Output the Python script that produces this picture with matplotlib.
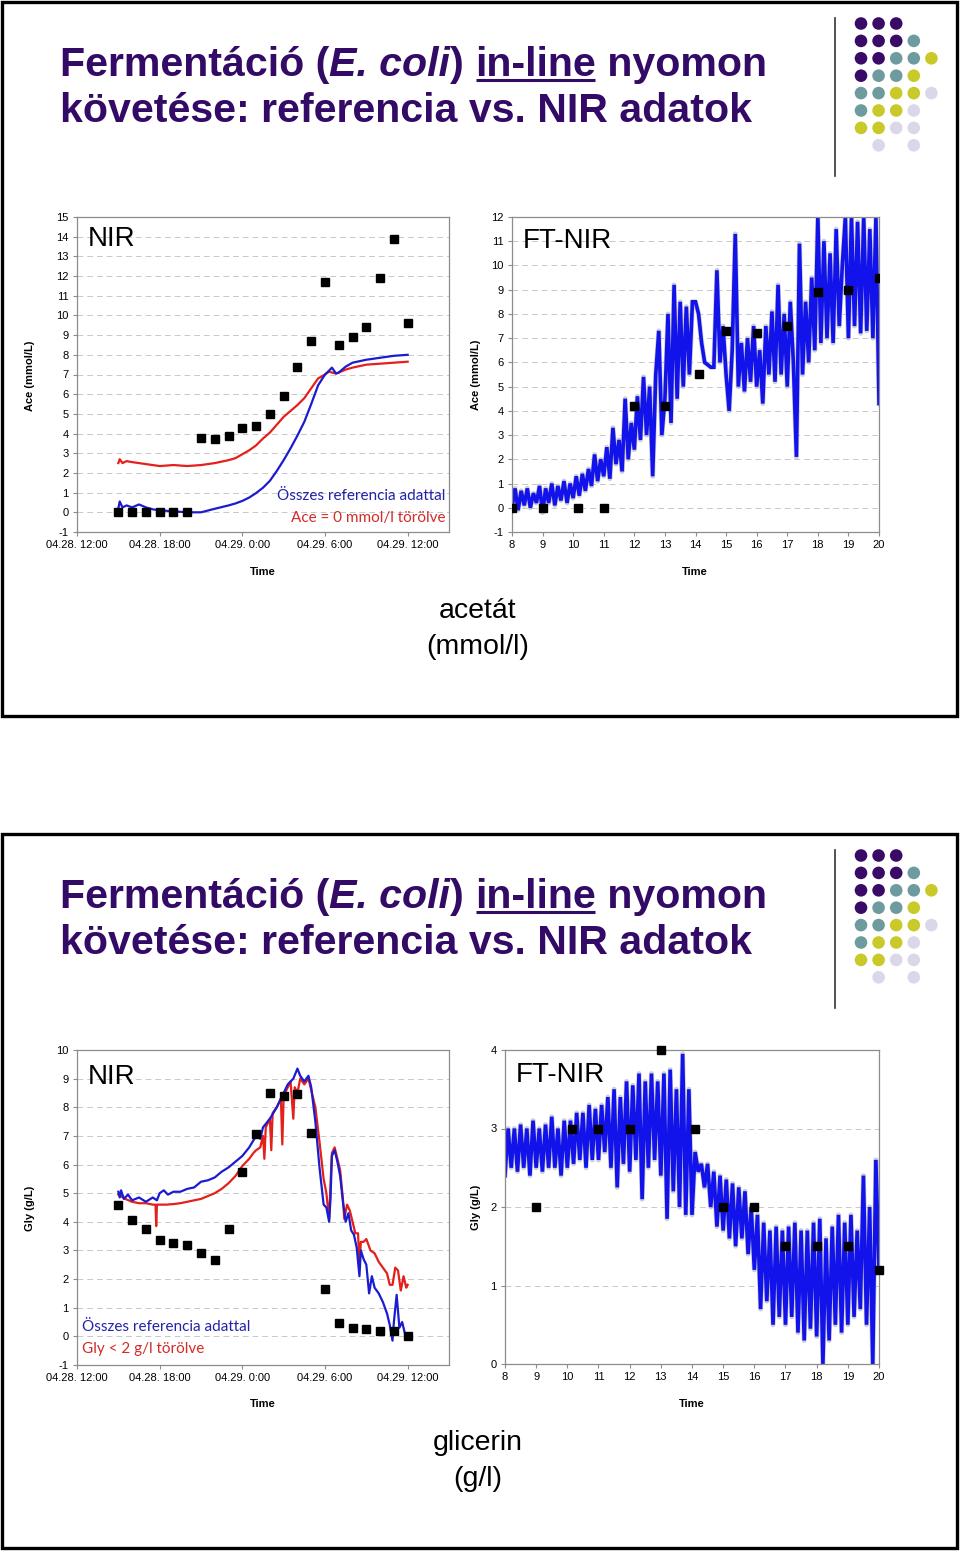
import matplotlib
matplotlib.use('Agg')
import matplotlib.pyplot as plt
from matplotlib.patches import Rectangle, Circle

plt.rcParams['font.family'] = ['Liberation Sans', 'DejaVu Sans']
plt.rcParams['axes.unicode_minus'] = False

# ---- data ----
# NIR, acetate (hours after 04.28. 12:00)
ref_ace_t = [3, 4, 5, 6, 7, 8, 9, 10, 11, 12, 13, 14, 15, 16, 17, 18, 19, 20, 21, 22, 23, 24]
ref_ace = [0, 0, 0, 0, 0, 0, 3.8, 3.7, 3.9, 4.3, 4.4, 5.0, 5.9, 7.4, 8.7, 11.7, 8.5, 8.9, 9.4, 11.9, 13.9, 9.6]
nir_ace_t = [3.0, 3.1, 3.3, 3.6, 4.0, 4.5, 5.0, 5.5, 6.0, 7.0, 8.0, 9.0, 10.0, 11.0, 11.5, 12.0, 12.5,
             13.0, 13.5, 14.0, 14.5, 15.0, 15.5, 16.0, 16.5, 17.0, 17.5, 18.0, 18.3, 18.5, 18.8, 19.0,
             19.5, 20.0, 21.0, 22.0, 23.0, 24.0]
nir_ace_all = [0.2, 0.55, 0.25, 0.35, 0.25, 0.4, 0.25, 0.15, 0.1, 0.05, 0.0, 0.0, 0.18, 0.35, 0.45, 0.58, 0.75,
               0.98, 1.25, 1.6, 2.1, 2.65, 3.25, 3.9, 4.6, 5.5, 6.45, 7.0, 7.2, 7.35, 7.05, 7.1,
               7.4, 7.6, 7.75, 7.85, 7.95, 8.0]
nir_ace_del = [2.5, 2.7, 2.5, 2.6, 2.55, 2.5, 2.45, 2.4, 2.35, 2.4, 2.35, 2.4, 2.5, 2.65, 2.75, 2.95, 3.15,
               3.4, 3.75, 4.05, 4.45, 4.85, 5.15, 5.45, 5.8, 6.3, 6.8, 7.0, 7.15, 7.1, 7.05, 7.1,
               7.25, 7.35, 7.5, 7.55, 7.6, 7.65]

# FT-NIR, acetate (hours)
ft_ref_ace_t = [8, 9, 10.15, 11, 12, 13, 14.1, 15, 16, 17, 18, 19, 20]
ft_ref_ace = [0, 0, 0, 0, 4.2, 4.2, 5.5, 7.3, 7.2, 7.5, 8.9, 9.0, 9.5]
ft_t = [8 + i / 10 for i in range(121)]
ft_ace = [0.0, 0.8, -0.1, 0.7, 0.1, 0.8, 0.0, 0.6, 0.2, 0.9,
          -0.2, 0.8, 0.2, 1.0, 0.1, 0.9, 0.3, 1.1, 0.2, 1.0,
          0.4, 1.3, 0.5, 1.4, 0.7, 1.6, 0.9, 2.2, 1.1, 2.0,
          1.3, 2.5, 1.2, 3.3, 1.8, 2.8, 1.5, 4.5, 2.0, 3.5,
          2.4, 4.6, 2.8, 5.4, 3.0, 5.0, 1.3, 5.5, 7.3, 3.0,
          4.5, 8.0, 3.5, 9.2, 4.5, 8.5, 5.0, 8.3, 5.5, 8.5,
          8.5, 8.0, 6.8, 6.0, 5.9, 5.8, 5.8, 9.8, 6.0, 7.5,
          5.5, 4.0, 6.5, 11.3, 5.0, 6.8, 4.8, 7.0, 5.2, 7.5,
          5.0, 6.5, 4.3, 7.5, 5.5, 8.1, 5.2, 9.2, 5.5, 8.0,
          5.0, 8.5, 6.0, 2.1, 10.9, 5.5, 8.5, 6.0, 9.5, 6.5,
          12.0, 6.8, 11.0, 7.0, 10.5, 6.8, 11.5, 7.5, 10.0, 12.0,
          7.0, 12.0, 7.5, 11.8, 7.2, 12.0, 7.3, 11.5, 7.0, 12.0,
          4.3]

# NIR, glycerol
ref_gly_t = [3, 4, 5, 6, 7, 8, 9, 10, 11, 12, 13, 14, 15, 16, 17, 18, 19, 20, 21, 22, 23, 24]
ref_gly = [4.6, 4.05, 3.75, 3.35, 3.25, 3.2, 2.9, 2.65, 3.75, 5.75, 7.05, 8.5, 8.4, 8.45, 7.1,
           1.65, 0.45, 0.3, 0.25, 0.2, 0.2, 0.0]
nir_gly_all_t = [3.0, 3.1, 3.2, 3.4, 3.7, 4.0, 4.5, 5.0, 5.5, 5.8, 6.0, 6.3, 6.6, 7.0, 7.5, 8.0, 8.5, 9.0,
                 9.5, 10.0, 10.5, 11.0, 11.5, 12.0, 12.5, 13.0, 13.3, 13.5, 14.0, 14.5, 15.0, 15.3, 15.5,
                 15.7, 16.0, 16.2, 16.5, 16.8, 17.0, 17.3, 17.6, 17.9, 18.1, 18.3, 18.4, 18.5, 18.7, 18.9,
                 19.1, 19.3, 19.5, 19.7, 19.9, 20.1, 20.3, 20.5, 20.6, 20.8, 21.0, 21.2, 21.4, 21.6, 21.9,
                 22.2, 22.5, 22.7, 22.9, 23.0, 23.2, 23.4, 23.6, 23.8, 24.0]
nir_gly_all = [5.05, 4.85, 5.1, 4.8, 4.95, 4.75, 4.85, 4.7, 4.85, 4.75, 5.0, 5.1, 4.95, 5.05, 5.05, 5.15,
               5.2, 5.4, 5.45, 5.55, 5.75, 5.9, 6.1, 6.3, 6.6, 7.0, 6.9, 7.3, 7.6, 8.0, 8.5, 8.8, 8.9,
               9.0, 9.35, 9.1, 8.9, 9.1, 8.7, 7.5, 5.9, 4.6, 4.5, 4.0, 4.8, 6.3, 6.5, 6.1,
               5.6, 4.7, 4.0, 4.3, 3.7, 3.55, 3.1, 2.1, 3.0, 2.7, 2.5, 1.5, 2.1, 1.7, 1.5,
               1.2, 0.8, 0.4, -0.15, 0.5, 1.45, 0.3, 0.5, 0.1, 0.0]
nir_gly_del_t = [3.0, 3.5, 4.0, 4.5, 5.0, 5.5, 5.7, 5.75, 5.8, 6.0, 6.5, 7.0, 7.5, 8.0, 8.5, 9.0, 9.5,
                 10.0, 10.5, 11.0, 11.5, 12.0, 12.5, 12.8, 13.0, 13.3, 13.5, 13.6, 13.7, 13.9, 14.0,
                 14.1, 14.2, 14.5, 14.8, 14.9, 15.0, 15.3, 15.5, 15.7, 15.8, 16.0, 16.2, 16.5, 16.8,
                 17.0, 17.3, 17.6, 17.9, 18.1, 18.3, 18.4, 18.5, 18.7, 18.9, 19.1, 19.3, 19.4, 19.6,
                 19.8, 20.0, 20.2, 20.4, 20.5, 20.6, 20.8, 21.0, 21.3, 21.6, 21.9, 22.2, 22.5, 22.7,
                 22.9, 23.1, 23.3, 23.5, 23.7, 23.9, 24.0]
nir_gly_del = [4.95, 4.8, 4.7, 4.65, 4.65, 4.6, 4.6, 3.85, 4.6, 4.6, 4.6, 4.62, 4.65, 4.7, 4.75, 4.8,
               4.9, 5.0, 5.15, 5.35, 5.6, 5.95, 6.2, 6.4, 6.5, 6.6, 7.0, 6.2, 7.3, 7.5, 7.6,
               6.5, 7.8, 8.0, 8.3, 6.7, 8.4, 8.7, 8.9, 7.6, 8.7, 8.5, 9.0, 8.8, 9.0,
               8.6, 8.0, 6.8, 5.5, 5.0, 4.1, 5.3, 6.4, 6.6, 6.2, 5.8, 4.8, 4.1, 4.6,
               4.4, 4.0, 3.6, 3.6, 2.4, 3.3, 3.3, 3.4, 3.0, 2.9, 2.6, 2.4, 2.2, 1.8,
               1.8, 2.4, 2.3, 1.6, 2.1, 1.7, 1.8]

# FT-NIR, glycerol
ft_ref_gly_t = [9, 10.15, 11, 12, 13, 14.1, 15, 16, 17, 18, 19, 20]
ft_ref_gly = [2.0, 3.0, 3.0, 3.0, 4.0, 3.0, 2.0, 2.0, 1.5, 1.5, 1.5, 1.2]
ft_gly = [2.4, 3.0, 2.5, 3.0, 2.45, 3.05, 2.5, 3.0, 2.4, 3.1,
          2.5, 3.0, 2.45, 3.05, 2.5, 3.15, 2.5, 3.0, 2.4, 3.1,
          2.5, 3.1, 2.55, 3.2, 2.6, 3.2, 2.5, 3.3, 2.6, 3.25,
          2.6, 3.3, 2.7, 3.4, 2.5, 3.5, 2.25, 3.4, 2.55, 3.6,
          2.45, 3.55, 2.6, 3.7, 2.1, 3.6, 2.5, 3.7, 2.6, 3.6,
          2.4, 3.7, 1.85, 3.75, 2.2, 3.5, 2.0, 3.95, 1.9, 3.5,
          1.9, 2.7, 2.45, 2.55, 2.25, 2.55, 2.0, 2.45, 1.75, 2.4,
          1.7, 2.35, 1.6, 2.3, 1.5, 2.25, 1.6, 2.2, 1.4, 2.0,
          1.2, 1.9, 0.7, 1.8, 0.8, 1.7, 0.5, 1.75, 0.6, 1.7,
          0.5, 1.75, 0.6, 1.8, 0.4, 1.7, 0.3, 1.7, 0.45, 1.8,
          0.35, 1.85, 0.0, 1.6, 0.3, 1.75, 0.5, 1.9, 0.4, 1.8,
          0.5, 1.9, 0.6, 1.7, 0.7, 2.4, 0.5, 2.0, 0.0, 2.6,
          1.2]

date_ticks = [0, 6, 12, 18, 24]
date_labels = ['04.28. 12:00', '04.28. 18:00', '04.29. 0:00', '04.29. 6:00', '04.29. 12:00']

# decorative dot grid: rows of (colour code per column)
dot_rows = ['PPP..', 'PPPT.', 'PPTTY', 'PTTY.', 'TTYYL', 'TYYL.', 'YYLL.', '.L.L.']
dot_cols = {'P': '#3a0b66', 'T': '#6e9c9e', 'Y': '#c9c92a', 'L': '#d8d8ea'}

BLUE = '#1b1bd0'
RED = '#e3201b'
FTBLUE = '#1212ea'
TITLE = '#330a66'

W, H = 960, 1552
fig = plt.figure(figsize=(9.6, 15.52), dpi=100)
bg = fig.add_axes([0, 0, 1, 1], zorder=0)
bg.set_xlim(0, W)
bg.set_ylim(H, 0)
bg.axis('off')


def px_axes(x0, y0, x1, y1):
    return fig.add_axes([x0 / W, 1 - y1 / H, (x1 - x0) / W, (y1 - y0) / H], zorder=2)


def style(ax):
    for s in ax.spines.values():
        s.set_color('#8c8c8c')
        s.set_linewidth(0.9)
    ax.grid(axis='y', color='#c8c8c8', linestyle=(0, (6, 4)), linewidth=0.7)
    ax.set_axisbelow(True)
    ax.tick_params(labelsize=8, length=3, color='#8c8c8c', pad=3)


renderer = fig.canvas.get_renderer()


def rich_line(x, y, parts, size):
    for txt, style_, under in parts:
        t = bg.text(x, y, txt, fontsize=size, fontweight='bold', fontstyle=style_, color=TITLE,
                    va='baseline', ha='left')
        w = t.get_window_extent(renderer).width
        if under:
            bg.plot([x + 1, x + w - 1], [y + 4, y + 4], color=TITLE, lw=2.2, solid_capstyle='butt')
        x += w


def slide(top, caption):
    # frame
    bg.add_patch(Rectangle((2, top + 2), 955, 714, fill=False, ec='black', lw=2.4))
    # title, size fitted to the reference width
    line1 = [('Fermentáció (', 'normal', False), ('E. coli', 'italic', False), (') ', 'normal', False),
             ('in-line', 'normal', True), (' nyomon', 'normal', False)]
    probe = bg.text(0, 0, 'Fermentáció (E. coli) in-line nyomon', fontsize=30, fontweight='bold')
    size = 30 * 708 / probe.get_window_extent(renderer).width
    probe.remove()
    rich_line(60, top + 76, line1, size)
    rich_line(60, top + 122, [('követése: referencia vs. NIR adatok', 'normal', False)], size)
    # side rule and dots
    bg.plot([835, 835], [top + 18, top + 176], color='#333333', lw=1.2)
    for r, row in enumerate(dot_rows):
        for c, code in enumerate(row):
            if code != '.':
                bg.add_patch(Circle((861 + c * 17.6, top + 23.5 + r * 17.4), 6.3, color=dot_cols[code], lw=0))
    bg.text(478, top + 611, caption[0], fontsize=20.5, ha='center', va='center')
    bg.text(478, top + 647, caption[1], fontsize=20.5, ha='center', va='center')


def labels(top, ylab, left_cx, right_cx):
    bg.text(30, top + 376, ylab, rotation=90, fontsize=8, fontweight='bold', ha='center', va='center')
    bg.text(476, top + 375, ylab, rotation=90, fontsize=8, fontweight='bold', ha='center', va='center')
    bg.text(left_cx, top + 572, 'Time', fontsize=8, fontweight='bold', ha='center', va='center')
    bg.text(right_cx, top + 572, 'Time', fontsize=8, fontweight='bold', ha='center', va='center')


slide(0, ('acetát', '(mmol/l)'))
slide(832, ('glicerin', '(g/l)'))
labels(0, 'Ace (mmol/L)', 263, 695)
labels(832, 'Gly (g/L)', 263, 692)

# ---- slide 1, NIR acetate ----
ax = px_axes(77, 217, 449, 532)
style(ax)
ax.plot(nir_ace_t, nir_ace_del, color=RED, lw=1.6)
ax.plot(nir_ace_t, nir_ace_all, color=BLUE, lw=1.6)
ax.plot(ref_ace_t, ref_ace, 's', color='black', ms=5.5, zorder=5)
ax.set_xlim(0, 27)
ax.set_ylim(-1, 15)
ax.set_yticks(range(-1, 16))
ax.set_xticks(date_ticks)
ax.set_xticklabels(date_labels)
ax.text(0.03, 0.93, 'NIR', transform=ax.transAxes, fontsize=20, va='center')
ax.text(0.99, 0.115, 'Összes referencia adattal', transform=ax.transAxes, color='#2323a8',
        fontsize=11, ha='right', va='center', family=['Lato', 'DejaVu Sans'])
ax.text(0.99, 0.045, 'Ace = 0 mmol/l törölve', transform=ax.transAxes, color='#d42a2a',
        fontsize=11, ha='right', va='center', family=['Lato', 'DejaVu Sans'])

# ---- slide 1, FT-NIR acetate ----
ax = px_axes(512, 217, 879, 532)
style(ax)
ax.plot(ft_t, ft_ace, color='#b8b8c8', lw=3.6, alpha=0.7)
ax.plot(ft_t, ft_ace, color=FTBLUE, lw=2.6, solid_joinstyle='miter')
ax.plot(ft_ref_ace_t, ft_ref_ace, 's', color='black', ms=5.5, zorder=5)
ax.set_xlim(8, 20)
ax.set_ylim(-1, 12)
ax.set_yticks(range(-1, 13))
ax.set_xticks(range(8, 21))
ax.text(0.03, 0.925, 'FT-NIR', transform=ax.transAxes, fontsize=20, va='center')

# ---- slide 2, NIR glycerol ----
ax = px_axes(77, 1050, 449, 1365)
style(ax)
ax.plot(nir_gly_del_t, nir_gly_del, color=RED, lw=1.6)
ax.plot(nir_gly_all_t, nir_gly_all, color=BLUE, lw=1.6)
ax.plot(ref_gly_t, ref_gly, 's', color='black', ms=5.5, zorder=5)
ax.set_xlim(0, 27)
ax.set_ylim(-1, 10)
ax.set_yticks(range(-1, 11))
ax.set_xticks(date_ticks)
ax.set_xticklabels(date_labels)
ax.text(0.03, 0.915, 'NIR', transform=ax.transAxes, fontsize=20, va='center')
ax.text(0.013, 0.12, 'Összes referencia adattal', transform=ax.transAxes, color='#2323a8',
        fontsize=11, ha='left', va='center', family=['Lato', 'DejaVu Sans'])
ax.text(0.013, 0.05, 'Gly < 2 g/l törölve', transform=ax.transAxes, color='#d42a2a',
        fontsize=11, ha='left', va='center', family=['Lato', 'DejaVu Sans'])

# ---- slide 2, FT-NIR glycerol ----
ax = px_axes(505, 1050, 879, 1364)
style(ax)
ax.plot(ft_t, ft_gly, color='#b8b8c8', lw=3.6, alpha=0.7)
ax.plot(ft_t, ft_gly, color=FTBLUE, lw=2.6, solid_joinstyle='miter')
ax.plot(ft_ref_gly_t, ft_ref_gly, 's', color='black', ms=5.5, zorder=5, clip_on=False)
ax.set_xlim(8, 20)
ax.set_ylim(0, 4)
ax.set_yticks(range(0, 5))
ax.set_xticks(range(8, 21))
ax.text(0.03, 0.92, 'FT-NIR', transform=ax.transAxes, fontsize=20, va='center')

fig.savefig('out.png', dpi=100, facecolor='white')
